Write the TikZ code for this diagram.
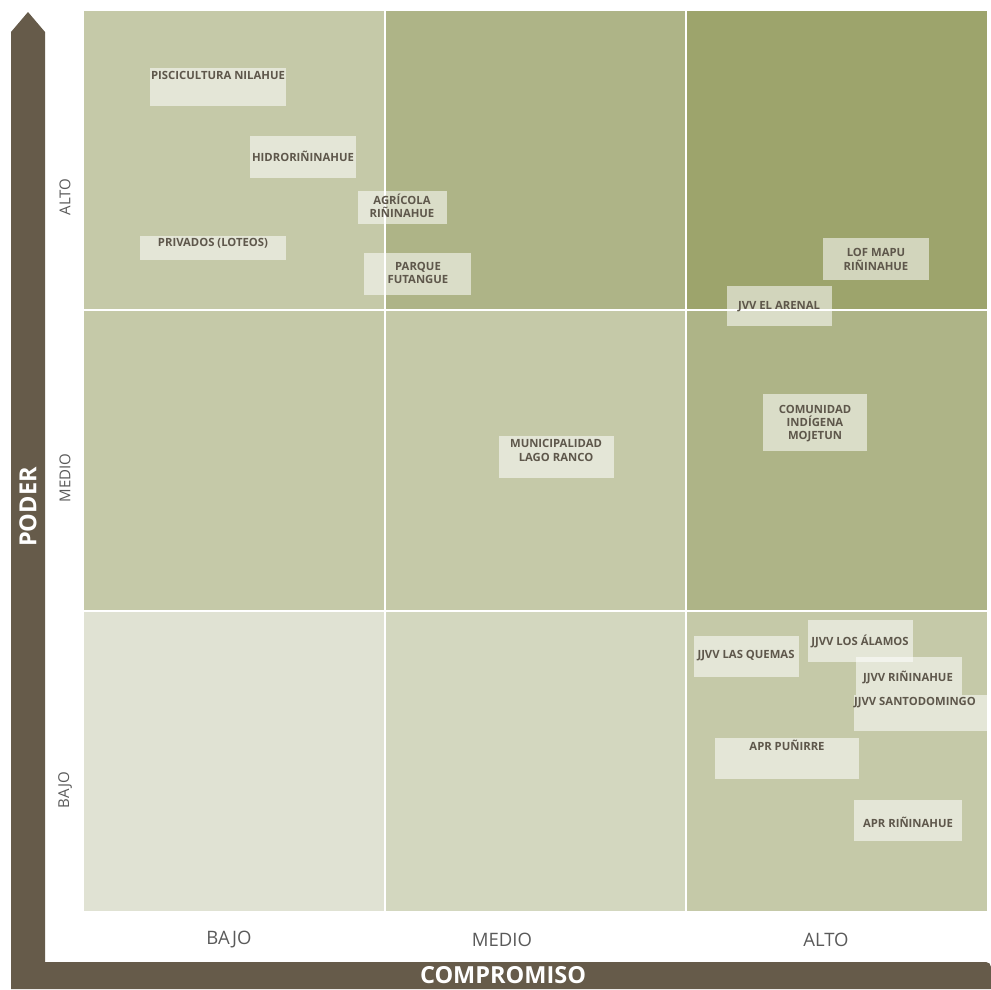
\documentclass[tikz,border=0pt]{standalone}
\usepackage{fontspec}
\setmainfont{Open Sans}
\definecolor{cA}{HTML}{C5C9A8}
\definecolor{cB}{HTML}{AEB487}
\definecolor{cC}{HTML}{9DA46C}
\definecolor{cD}{HTML}{E0E2D3}
\definecolor{cE}{HTML}{D3D7BF}
\definecolor{brown}{HTML}{665B4A}
\definecolor{labtxt}{HTML}{5E574B}
\definecolor{axtxt}{HTML}{5A5A5A}
\tikzset{
  cell/.style={draw=white,line width=1.5pt},
  lbox/.style={fill=white,fill opacity=0.55},
  lab/.style={text=labtxt,font=\bfseries\fontsize{11.3}{13.3}\selectfont,align=center,inner sep=0pt},
  haxis/.style={text=axtxt,font=\fontsize{18.5}{20}\selectfont,inner sep=0pt},
  vaxis/.style={text=axtxt,font=\fontsize{15}{18}\selectfont,inner sep=0pt,rotate=90},
  bigax/.style={text=white,font=\bfseries\fontsize{23.5}{26}\selectfont,inner sep=0pt}
}
\begin{document}
\begin{tikzpicture}[x=1pt,y=-1pt]
\useasboundingbox (0,0) rectangle (991,989);
\fill[white] (0,0) rectangle (991,989);
% cells
\path[cell,fill=cA] (83,10) rectangle (385,310);
\path[cell,fill=cB] (385,10) rectangle (686,310);
\path[cell,fill=cC] (686,10) rectangle (988,310);
\path[cell,fill=cA] (83,310) rectangle (385,611);
\path[cell,fill=cA] (385,310) rectangle (686,611);
\path[cell,fill=cB] (686,310) rectangle (988,611);
\path[cell,fill=cD] (83,611) rectangle (385,912);
\path[cell,fill=cE] (385,611) rectangle (686,912);
\path[cell,fill=cA] (686,611) rectangle (988,912);
% axes
\fill[brown] (11,989) -- (11,32) -- (28,12) -- (45,32) -- (45,962) -- (986,962)
  to[out=0,in=90] (991,967) -- (991,989) -- cycle;
\node[bigax,rotate=90] (poder) at (28,507) {PODER};
\node[bigax] (comp) at (503,975) {COMPROMISO};
\node[haxis] (hb) at (229,940) {BAJO};
\node[haxis] (hm) at (502,940) {MEDIO};
\node[haxis] (ha) at (826,940) {ALTO};
\node[vaxis] (va) at (65,197) {ALTO};
\node[vaxis] (vm) at (65,478) {MEDIO};
\node[vaxis] (vb) at (65,790) {BAJO};
% label boxes
\path[lbox] (150,68) rectangle (286,106);
\node[lab] (pis) at (218,75) {PISCICULTURA NILAHUE};
\path[lbox] (250,136) rectangle (356,178);
\node[lab] (hid) at (303,156) {HIDRORIÑINAHUE};
\path[lbox] (358,191) rectangle (447,224);
\node[lab] (agr) at (402,205.5) {AGRÍCOLA\\RIÑINAHUE};
\path[lbox] (140,236) rectangle (286,260);
\node[lab] (pri) at (213,243) {PRIVADOS (LOTEOS)};
\path[lbox] (364,253) rectangle (471,295);
\node[lab] (par) at (418,273) {PARQUE\\FUTANGUE};
\path[lbox] (823,238) rectangle (929,280);
\node[lab] (lof) at (876,259.5) {LOF MAPU\\RIÑINAHUE};
\path[lbox] (727,286) rectangle (832,326);
\node[lab] (jea) at (779,307) {JVV EL ARENAL};
\path[lbox] (763,394) rectangle (867,451);
\node[lab] (com) at (815,423.5) {COMUNIDAD\\INDÍGENA\\MOJETUN};
\path[lbox] (499,436) rectangle (614,478);
\node[lab] (mun) at (556,450.5) {MUNICIPALIDAD\\LAGO RANCO};
\path[lbox] (694,636) rectangle (799,677);
\node[lab] (jlq) at (746,656) {JJVV LAS QUEMAS};
\path[lbox] (808,620) rectangle (913,662);
\node[lab] (jla) at (860,641) {JJVV LOS ÁLAMOS};
\path[lbox] (856,657) rectangle (962,695);
\node[lab] (jri) at (908,677) {JJVV RIÑINAHUE};
\path[lbox] (854,695) rectangle (991,731);
\node[lab] (jsa) at (915,703) {JJVV SANTODOMINGO};
\path[lbox] (715,738) rectangle (859,779);
\node[lab] (apu) at (787,745) {APR PUÑIRRE};
\path[lbox] (854,800) rectangle (962,841);
\node[lab] (ari) at (908,822) {APR RIÑINAHUE};
\end{tikzpicture}
\end{document}
